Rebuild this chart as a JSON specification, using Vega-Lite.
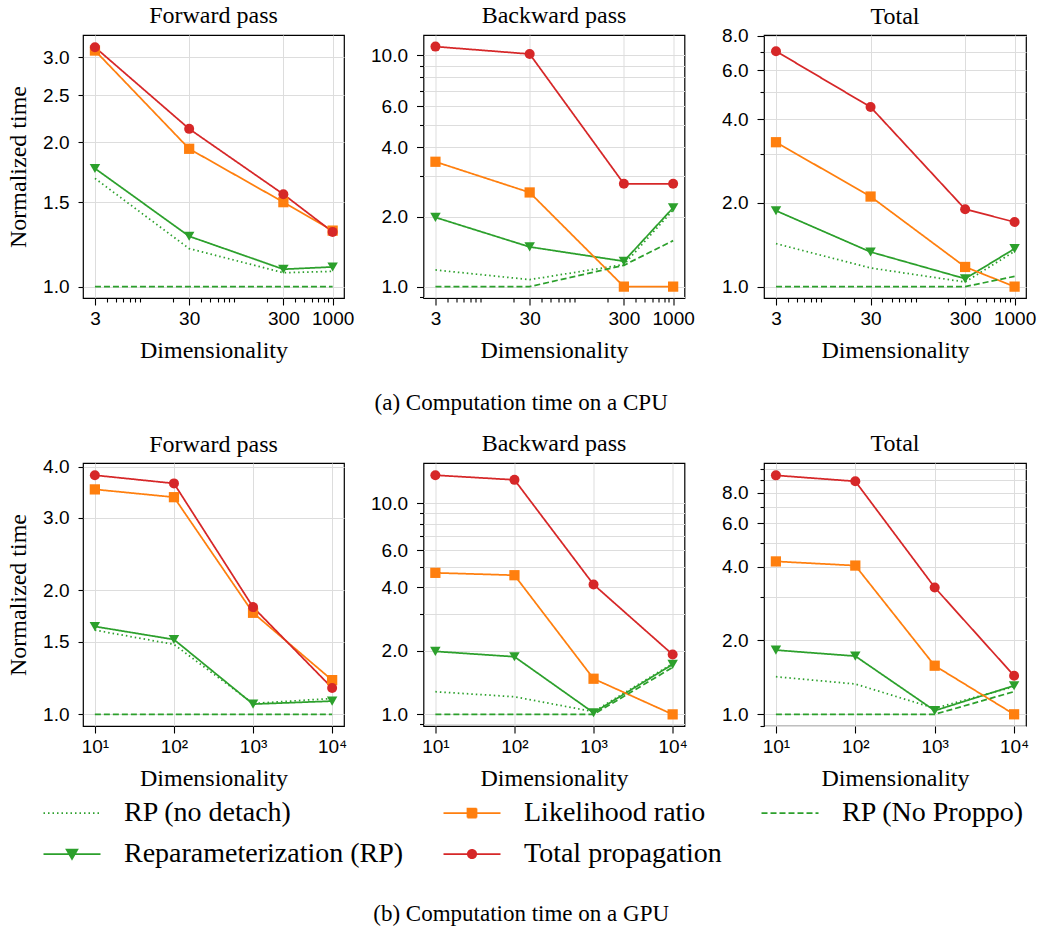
{
  "$schema": "https://vega.github.io/schema/vega-lite/v6.json",
  "padding": {"left": 5, "top": 3, "right": 0, "bottom": 0},
  "background": "white",
  "datasets": {
    "d": [
      {"dev":"CPU","panel":"Forward pass","series":"RP (no detach)","dim":3,"t":1.68},
      {"dev":"CPU","panel":"Forward pass","series":"RP (no detach)","dim":30,"t":1.20},
      {"dev":"CPU","panel":"Forward pass","series":"RP (no detach)","dim":300,"t":1.069},
      {"dev":"CPU","panel":"Forward pass","series":"RP (no detach)","dim":1000,"t":1.076},
      {"dev":"CPU","panel":"Forward pass","series":"Reparameterization (RP)","dim":3,"t":1.762},
      {"dev":"CPU","panel":"Forward pass","series":"Reparameterization (RP)","dim":30,"t":1.273},
      {"dev":"CPU","panel":"Forward pass","series":"Reparameterization (RP)","dim":300,"t":1.087},
      {"dev":"CPU","panel":"Forward pass","series":"Reparameterization (RP)","dim":1000,"t":1.099},
      {"dev":"CPU","panel":"Forward pass","series":"Likelihood ratio","dim":3,"t":3.10},
      {"dev":"CPU","panel":"Forward pass","series":"Likelihood ratio","dim":30,"t":1.936},
      {"dev":"CPU","panel":"Forward pass","series":"Likelihood ratio","dim":300,"t":1.499},
      {"dev":"CPU","panel":"Forward pass","series":"Likelihood ratio","dim":1000,"t":1.308},
      {"dev":"CPU","panel":"Forward pass","series":"Total propagation","dim":3,"t":3.15},
      {"dev":"CPU","panel":"Forward pass","series":"Total propagation","dim":30,"t":2.13},
      {"dev":"CPU","panel":"Forward pass","series":"Total propagation","dim":300,"t":1.557},
      {"dev":"CPU","panel":"Forward pass","series":"Total propagation","dim":1000,"t":1.30},
      {"dev":"CPU","panel":"Forward pass","series":"RP (No Proppo)","dim":3,"t":1.0},
      {"dev":"CPU","panel":"Forward pass","series":"RP (No Proppo)","dim":30,"t":1.0},
      {"dev":"CPU","panel":"Forward pass","series":"RP (No Proppo)","dim":300,"t":1.0},
      {"dev":"CPU","panel":"Forward pass","series":"RP (No Proppo)","dim":1000,"t":1.0},

      {"dev":"CPU","panel":"Backward pass","series":"RP (no detach)","dim":3,"t":1.18},
      {"dev":"CPU","panel":"Backward pass","series":"RP (no detach)","dim":30,"t":1.072},
      {"dev":"CPU","panel":"Backward pass","series":"RP (no detach)","dim":300,"t":1.245},
      {"dev":"CPU","panel":"Backward pass","series":"RP (no detach)","dim":1000,"t":2.14},
      {"dev":"CPU","panel":"Backward pass","series":"Reparameterization (RP)","dim":3,"t":1.99},
      {"dev":"CPU","panel":"Backward pass","series":"Reparameterization (RP)","dim":30,"t":1.484},
      {"dev":"CPU","panel":"Backward pass","series":"Reparameterization (RP)","dim":300,"t":1.287},
      {"dev":"CPU","panel":"Backward pass","series":"Reparameterization (RP)","dim":1000,"t":2.19},
      {"dev":"CPU","panel":"Backward pass","series":"Likelihood ratio","dim":3,"t":3.46},
      {"dev":"CPU","panel":"Backward pass","series":"Likelihood ratio","dim":30,"t":2.55},
      {"dev":"CPU","panel":"Backward pass","series":"Likelihood ratio","dim":300,"t":1.0},
      {"dev":"CPU","panel":"Backward pass","series":"Likelihood ratio","dim":1000,"t":1.0},
      {"dev":"CPU","panel":"Backward pass","series":"Total propagation","dim":3,"t":10.87},
      {"dev":"CPU","panel":"Backward pass","series":"Total propagation","dim":30,"t":10.1},
      {"dev":"CPU","panel":"Backward pass","series":"Total propagation","dim":300,"t":2.78},
      {"dev":"CPU","panel":"Backward pass","series":"Total propagation","dim":1000,"t":2.78},
      {"dev":"CPU","panel":"Backward pass","series":"RP (No Proppo)","dim":3,"t":1.0},
      {"dev":"CPU","panel":"Backward pass","series":"RP (No Proppo)","dim":30,"t":1.0},
      {"dev":"CPU","panel":"Backward pass","series":"RP (No Proppo)","dim":300,"t":1.236},
      {"dev":"CPU","panel":"Backward pass","series":"RP (No Proppo)","dim":1000,"t":1.58},

      {"dev":"CPU","panel":"Total","series":"RP (no detach)","dim":3,"t":1.428},
      {"dev":"CPU","panel":"Total","series":"RP (no detach)","dim":30,"t":1.167},
      {"dev":"CPU","panel":"Total","series":"RP (no detach)","dim":300,"t":1.039},
      {"dev":"CPU","panel":"Total","series":"RP (no detach)","dim":1000,"t":1.34},
      {"dev":"CPU","panel":"Total","series":"Reparameterization (RP)","dim":3,"t":1.876},
      {"dev":"CPU","panel":"Total","series":"Reparameterization (RP)","dim":30,"t":1.333},
      {"dev":"CPU","panel":"Total","series":"Reparameterization (RP)","dim":300,"t":1.068},
      {"dev":"CPU","panel":"Total","series":"Reparameterization (RP)","dim":1000,"t":1.37},
      {"dev":"CPU","panel":"Total","series":"Likelihood ratio","dim":3,"t":3.31},
      {"dev":"CPU","panel":"Total","series":"Likelihood ratio","dim":30,"t":2.11},
      {"dev":"CPU","panel":"Total","series":"Likelihood ratio","dim":300,"t":1.177},
      {"dev":"CPU","panel":"Total","series":"Likelihood ratio","dim":1000,"t":1.0},
      {"dev":"CPU","panel":"Total","series":"Total propagation","dim":3,"t":7.04},
      {"dev":"CPU","panel":"Total","series":"Total propagation","dim":30,"t":4.43},
      {"dev":"CPU","panel":"Total","series":"Total propagation","dim":300,"t":1.90},
      {"dev":"CPU","panel":"Total","series":"Total propagation","dim":1000,"t":1.708},
      {"dev":"CPU","panel":"Total","series":"RP (No Proppo)","dim":3,"t":1.0},
      {"dev":"CPU","panel":"Total","series":"RP (No Proppo)","dim":30,"t":1.0},
      {"dev":"CPU","panel":"Total","series":"RP (No Proppo)","dim":300,"t":1.0},
      {"dev":"CPU","panel":"Total","series":"RP (No Proppo)","dim":1000,"t":1.089},

      {"dev":"GPU","panel":"Forward pass","series":"RP (no detach)","dim":10,"t":1.602},
      {"dev":"GPU","panel":"Forward pass","series":"RP (no detach)","dim":100,"t":1.479},
      {"dev":"GPU","panel":"Forward pass","series":"RP (no detach)","dim":1000,"t":1.063},
      {"dev":"GPU","panel":"Forward pass","series":"RP (no detach)","dim":10000,"t":1.093},
      {"dev":"GPU","panel":"Forward pass","series":"Reparameterization (RP)","dim":10,"t":1.635},
      {"dev":"GPU","panel":"Forward pass","series":"Reparameterization (RP)","dim":100,"t":1.52},
      {"dev":"GPU","panel":"Forward pass","series":"Reparameterization (RP)","dim":1000,"t":1.059},
      {"dev":"GPU","panel":"Forward pass","series":"Reparameterization (RP)","dim":10000,"t":1.077},
      {"dev":"GPU","panel":"Forward pass","series":"Likelihood ratio","dim":10,"t":3.52},
      {"dev":"GPU","panel":"Forward pass","series":"Likelihood ratio","dim":100,"t":3.37},
      {"dev":"GPU","panel":"Forward pass","series":"Likelihood ratio","dim":1000,"t":1.765},
      {"dev":"GPU","panel":"Forward pass","series":"Likelihood ratio","dim":10000,"t":1.211},
      {"dev":"GPU","panel":"Forward pass","series":"Total propagation","dim":10,"t":3.81},
      {"dev":"GPU","panel":"Forward pass","series":"Total propagation","dim":100,"t":3.64},
      {"dev":"GPU","panel":"Forward pass","series":"Total propagation","dim":1000,"t":1.822},
      {"dev":"GPU","panel":"Forward pass","series":"Total propagation","dim":10000,"t":1.159},
      {"dev":"GPU","panel":"Forward pass","series":"RP (No Proppo)","dim":10,"t":1.0},
      {"dev":"GPU","panel":"Forward pass","series":"RP (No Proppo)","dim":100,"t":1.0},
      {"dev":"GPU","panel":"Forward pass","series":"RP (No Proppo)","dim":1000,"t":1.0},
      {"dev":"GPU","panel":"Forward pass","series":"RP (No Proppo)","dim":10000,"t":1.0},

      {"dev":"GPU","panel":"Backward pass","series":"RP (no detach)","dim":10,"t":1.28},
      {"dev":"GPU","panel":"Backward pass","series":"RP (no detach)","dim":100,"t":1.212},
      {"dev":"GPU","panel":"Backward pass","series":"RP (no detach)","dim":1000,"t":1.03},
      {"dev":"GPU","panel":"Backward pass","series":"RP (no detach)","dim":10000,"t":1.74},
      {"dev":"GPU","panel":"Backward pass","series":"Reparameterization (RP)","dim":10,"t":1.987},
      {"dev":"GPU","panel":"Backward pass","series":"Reparameterization (RP)","dim":100,"t":1.875},
      {"dev":"GPU","panel":"Backward pass","series":"Reparameterization (RP)","dim":1000,"t":1.018},
      {"dev":"GPU","panel":"Backward pass","series":"Reparameterization (RP)","dim":10000,"t":1.725},
      {"dev":"GPU","panel":"Backward pass","series":"Likelihood ratio","dim":10,"t":4.68},
      {"dev":"GPU","panel":"Backward pass","series":"Likelihood ratio","dim":100,"t":4.56},
      {"dev":"GPU","panel":"Backward pass","series":"Likelihood ratio","dim":1000,"t":1.475},
      {"dev":"GPU","panel":"Backward pass","series":"Likelihood ratio","dim":10000,"t":1.0},
      {"dev":"GPU","panel":"Backward pass","series":"Total propagation","dim":10,"t":13.57},
      {"dev":"GPU","panel":"Backward pass","series":"Total propagation","dim":100,"t":12.9},
      {"dev":"GPU","panel":"Backward pass","series":"Total propagation","dim":1000,"t":4.12},
      {"dev":"GPU","panel":"Backward pass","series":"Total propagation","dim":10000,"t":1.92},
      {"dev":"GPU","panel":"Backward pass","series":"RP (No Proppo)","dim":10,"t":1.0},
      {"dev":"GPU","panel":"Backward pass","series":"RP (No Proppo)","dim":100,"t":1.0},
      {"dev":"GPU","panel":"Backward pass","series":"RP (No Proppo)","dim":1000,"t":1.0},
      {"dev":"GPU","panel":"Backward pass","series":"RP (No Proppo)","dim":10000,"t":1.669},

      {"dev":"GPU","panel":"Total","series":"RP (no detach)","dim":10,"t":1.423},
      {"dev":"GPU","panel":"Total","series":"RP (no detach)","dim":100,"t":1.329},
      {"dev":"GPU","panel":"Total","series":"RP (no detach)","dim":1000,"t":1.058},
      {"dev":"GPU","panel":"Total","series":"RP (no detach)","dim":10000,"t":1.296},
      {"dev":"GPU","panel":"Total","series":"Reparameterization (RP)","dim":10,"t":1.827},
      {"dev":"GPU","panel":"Total","series":"Reparameterization (RP)","dim":100,"t":1.727},
      {"dev":"GPU","panel":"Total","series":"Reparameterization (RP)","dim":1000,"t":1.035},
      {"dev":"GPU","panel":"Total","series":"Reparameterization (RP)","dim":10000,"t":1.308},
      {"dev":"GPU","panel":"Total","series":"Likelihood ratio","dim":10,"t":4.20},
      {"dev":"GPU","panel":"Total","series":"Likelihood ratio","dim":100,"t":4.04},
      {"dev":"GPU","panel":"Total","series":"Likelihood ratio","dim":1000,"t":1.578},
      {"dev":"GPU","panel":"Total","series":"Likelihood ratio","dim":10000,"t":1.0},
      {"dev":"GPU","panel":"Total","series":"Total propagation","dim":10,"t":9.42},
      {"dev":"GPU","panel":"Total","series":"Total propagation","dim":100,"t":8.91},
      {"dev":"GPU","panel":"Total","series":"Total propagation","dim":1000,"t":3.29},
      {"dev":"GPU","panel":"Total","series":"Total propagation","dim":10000,"t":1.436},
      {"dev":"GPU","panel":"Total","series":"RP (No Proppo)","dim":10,"t":1.0},
      {"dev":"GPU","panel":"Total","series":"RP (No Proppo)","dim":100,"t":1.0},
      {"dev":"GPU","panel":"Total","series":"RP (No Proppo)","dim":1000,"t":1.0},
      {"dev":"GPU","panel":"Total","series":"RP (No Proppo)","dim":10000,"t":1.237}
    ]
  },
  "data": {"name": "d"},
  "title": {"text": "(b) Computation time on a GPU", "orient": "bottom", "anchor": "middle", "fontSize": 23, "offset": 35},
  "vconcat": [
    {
      "title": {"text": "(a) Computation time on a CPU", "orient": "bottom", "anchor": "middle", "fontSize": 23, "offset": 29},
      "bounds": "flush",
      "spacing": 79.5,
      "hconcat": [
        {
          "title": "Forward pass",
          "width": 261, "height": 263,
          "transform": [{"filter": "datum.dev === 'CPU' && datum.panel === 'Forward pass'"}],
          "encoding": {
            "x": {"field": "dim", "type": "quantitative", "scale": {"type": "log", "domain": [2.24, 1320], "nice": false},
              "axis": {"title": "Dimensionality", "values": [3,4,5,6,7,8,9,20,30,40,50,60,70,80,90,200,300,400,500,600,700,800,900,1000],
                "labelExpr": "indexof([3,30,300,1000], datum.value) >= 0 ? format(datum.value, 'd') : ''",
                "tickSize": {"condition": {"test": "indexof([3,30,300,1000], datum.value) >= 0", "value": 7}, "value": 4},
                "gridOpacity": {"condition": {"test": "indexof([3,30,300,1000], datum.value) >= 0", "value": 1}, "value": 0}}},
            "y": {"field": "t", "type": "quantitative", "scale": {"type": "log", "domain": [0.947, 3.34], "nice": false},
              "axis": {"title": "Normalized time", "values": [1, 1.5, 2, 2.5, 3], "format": ".1f"}}
          },
          "layer": [
            {"mark": {"type": "line", "strokeWidth": 1.75},
             "encoding": {
               "color": {"field": "series", "type": "nominal",
                 "scale": {"domain": ["RP (no detach)", "Likelihood ratio", "RP (No Proppo)", "Reparameterization (RP)", "Total propagation"], "range": ["#2ca02c", "#ff7f0e", "#2ca02c", "#2ca02c", "#d62728"]},
                 "legend": {"title": null, "orient": "none", "legendX": -41, "legendY": 762, "columns": 3, "direction": "horizontal", "symbolSize": 900, "symbolStrokeWidth": 1.75,
                   "symbolOffset": 14, "labelOffset": 36, "labelFont": "Liberation Serif", "labelFontSize": 28, "labelColor": "#000000", "labelLimit": 600,
                   "columnPadding": 36, "rowPadding": 11, "padding": 0,
                   "encode": {"symbols": {"update": {
                     "shape": {"signal": "datum.value === 'Reparameterization (RP)' ? 'M-1.9,0H1.9M-0.36,-0.3L0.36,-0.3L0,0.33Z' : datum.value === 'Likelihood ratio' ? 'M-1.9,0H1.9M-0.3,-0.3H0.3V0.3H-0.3Z' : datum.value === 'Total propagation' ? 'M-1.9,0H1.9M0.28,0A0.28,0.28 0 1,1 -0.28,0A0.28,0.28 0 1,1 0.28,0Z' : 'M-1.9,0H1.9'"},
                     "fill": {"scale": "color", "field": "value"},
                     "stroke": {"scale": "color", "field": "value"},
                     "strokeDash": {"scale": "strokeDash", "field": "value"},
                     "opacity": {"value": 1}
                   }}, "labels": {"update": {"font": {"value": "Liberation Serif"}, "fontSize": {"value": 28}}}}}},
               "strokeDash": {"field": "series", "type": "nominal", "legend": null,
                 "scale": {"domain": ["RP (no detach)", "Likelihood ratio", "RP (No Proppo)", "Reparameterization (RP)", "Total propagation"], "range": [[1.5, 3], [1, 0], [6, 3], [1, 0], [1, 0]]}}}},
            {"transform": [{"filter": "datum.series === 'Reparameterization (RP)' || datum.series === 'Likelihood ratio' || datum.series === 'Total propagation'"}],
             "mark": {"type": "point", "filled": true, "opacity": 1, "strokeWidth": 0},
             "encoding": {"color": {"field": "series", "type": "nominal"},
               "shape": {"field": "series", "type": "nominal", "legend": null, "scale": {"domain": ["Reparameterization (RP)", "Likelihood ratio", "Total propagation"], "range": ["triangle-down", "square", "circle"]}},
               "size": {"field": "series", "type": "nominal", "legend": null, "scale": {"domain": ["Reparameterization (RP)", "Likelihood ratio", "Total propagation"], "range": [110, 100, 81]}}}}
          ]
        },
        {
          "title": "Backward pass",
          "width": 261, "height": 263,
          "transform": [{"filter": "datum.dev === 'CPU' && datum.panel === 'Backward pass'"}],
          "encoding": {
            "x": {"field": "dim", "type": "quantitative", "scale": {"type": "log", "domain": [2.24, 1320], "nice": false},
              "axis": {"title": "Dimensionality", "values": [3,4,5,6,7,8,9,20,30,40,50,60,70,80,90,200,300,400,500,600,700,800,900,1000],
                "labelExpr": "indexof([3,30,300,1000], datum.value) >= 0 ? format(datum.value, 'd') : ''",
                "tickSize": {"condition": {"test": "indexof([3,30,300,1000], datum.value) >= 0", "value": 7}, "value": 4},
                "gridOpacity": {"condition": {"test": "indexof([3,30,300,1000], datum.value) >= 0", "value": 1}, "value": 0}}},
            "y": {"field": "t", "type": "quantitative", "scale": {"type": "log", "domain": [0.893, 12.2], "nice": false},
              "axis": {"title": null, "values": [0.9,1,2,3,4,5,6,7,8,9,10],
                "labelExpr": "indexof([1,2,4,6,10], datum.value) >= 0 ? format(datum.value, '.1f') : ''",
                "tickSize": {"condition": {"test": "indexof([1,2,4,6,10], datum.value) >= 0", "value": 7}, "value": 4}}}
          },
          "layer": [
            {"mark": {"type": "line", "strokeWidth": 1.75},
             "encoding": {"color": {"field": "series", "type": "nominal"}, "strokeDash": {"field": "series", "type": "nominal", "legend": null}}},
            {"transform": [{"filter": "datum.series === 'Reparameterization (RP)' || datum.series === 'Likelihood ratio' || datum.series === 'Total propagation'"}],
             "mark": {"type": "point", "filled": true, "opacity": 1, "strokeWidth": 0},
             "encoding": {"color": {"field": "series", "type": "nominal"}, "shape": {"field": "series", "type": "nominal", "legend": null}, "size": {"field": "series", "type": "nominal", "legend": null}}}
          ]
        },
        {
          "title": {"text": "Total", "dy": 9},
          "width": 262, "height": 263,
          "transform": [{"filter": "datum.dev === 'CPU' && datum.panel === 'Total'"}],
          "encoding": {
            "x": {"field": "dim", "type": "quantitative", "scale": {"type": "log", "domain": [2.24, 1320], "nice": false},
              "axis": {"title": "Dimensionality", "values": [3,4,5,6,7,8,9,20,30,40,50,60,70,80,90,200,300,400,500,600,700,800,900,1000],
                "labelExpr": "indexof([3,30,300,1000], datum.value) >= 0 ? format(datum.value, 'd') : ''",
                "tickSize": {"condition": {"test": "indexof([3,30,300,1000], datum.value) >= 0", "value": 7}, "value": 4},
                "gridOpacity": {"condition": {"test": "indexof([3,30,300,1000], datum.value) >= 0", "value": 1}, "value": 0}}},
            "y": {"field": "t", "type": "quantitative", "scale": {"type": "log", "domain": [0.91, 8.05], "nice": false},
              "axis": {"title": null, "values": [1,2,3,4,5,6,7,8],
                "labelExpr": "indexof([1,2,4,6,8], datum.value) >= 0 ? format(datum.value, '.1f') : ''",
                "tickSize": {"condition": {"test": "indexof([1,2,4,6,8], datum.value) >= 0", "value": 7}, "value": 4}}}
          },
          "layer": [
            {"mark": {"type": "line", "strokeWidth": 1.75},
             "encoding": {"color": {"field": "series", "type": "nominal"}, "strokeDash": {"field": "series", "type": "nominal", "legend": null}}},
            {"transform": [{"filter": "datum.series === 'Reparameterization (RP)' || datum.series === 'Likelihood ratio' || datum.series === 'Total propagation'"}],
             "mark": {"type": "point", "filled": true, "opacity": 1, "strokeWidth": 0},
             "encoding": {"color": {"field": "series", "type": "nominal"}, "shape": {"field": "series", "type": "nominal", "legend": null}, "size": {"field": "series", "type": "nominal", "legend": null}}}
          ]
        }
      ]
    },
    {
      "bounds": "flush",
      "spacing": 79.5,
      "hconcat": [
        {
          "title": {"text": "Forward pass", "dy": 6},
          "width": 261, "height": 263,
          "transform": [{"filter": "datum.dev === 'GPU' && datum.panel === 'Forward pass'"}],
          "encoding": {
            "x": {"field": "dim", "type": "quantitative", "scale": {"type": "log", "domain": [7.08, 14125], "nice": false},
              "axis": {"title": "Dimensionality", "values": [10,100,1000,10000],
                "labelExpr": "datum.value == 10 ? '10¹' : datum.value == 100 ? '10²' : datum.value == 1000 ? '10³' : '10⁴'", "tickSize": 7}},
            "y": {"field": "t", "type": "quantitative", "scale": {"type": "log", "domain": [0.937, 4.08], "nice": false},
              "axis": {"title": "Normalized time", "values": [1, 1.5, 2, 3, 4], "format": ".1f"}}
          },
          "layer": [
            {"mark": {"type": "line", "strokeWidth": 1.75},
             "encoding": {"color": {"field": "series", "type": "nominal"}, "strokeDash": {"field": "series", "type": "nominal", "legend": null}}},
            {"transform": [{"filter": "datum.series === 'Reparameterization (RP)' || datum.series === 'Likelihood ratio' || datum.series === 'Total propagation'"}],
             "mark": {"type": "point", "filled": true, "opacity": 1, "strokeWidth": 0},
             "encoding": {"color": {"field": "series", "type": "nominal"}, "shape": {"field": "series", "type": "nominal", "legend": null}, "size": {"field": "series", "type": "nominal", "legend": null}}}
          ]
        },
        {
          "title": "Backward pass",
          "width": 261, "height": 263,
          "transform": [{"filter": "datum.dev === 'GPU' && datum.panel === 'Backward pass'"}],
          "encoding": {
            "x": {"field": "dim", "type": "quantitative", "scale": {"type": "log", "domain": [7.08, 14125], "nice": false},
              "axis": {"title": "Dimensionality", "values": [10,100,1000,10000],
                "labelExpr": "datum.value == 10 ? '10¹' : datum.value == 100 ? '10²' : datum.value == 1000 ? '10³' : '10⁴'", "tickSize": 7}},
            "y": {"field": "t", "type": "quantitative", "scale": {"type": "log", "domain": [0.881, 15.5], "nice": false},
              "axis": {"title": null, "values": [0.9,1,2,3,4,5,6,7,8,9,10],
                "labelExpr": "indexof([1,2,4,6,10], datum.value) >= 0 ? format(datum.value, '.1f') : ''",
                "tickSize": {"condition": {"test": "indexof([1,2,4,6,10], datum.value) >= 0", "value": 7}, "value": 4}}}
          },
          "layer": [
            {"mark": {"type": "line", "strokeWidth": 1.75},
             "encoding": {"color": {"field": "series", "type": "nominal"}, "strokeDash": {"field": "series", "type": "nominal", "legend": null}}},
            {"transform": [{"filter": "datum.series === 'Reparameterization (RP)' || datum.series === 'Likelihood ratio' || datum.series === 'Total propagation'"}],
             "mark": {"type": "point", "filled": true, "opacity": 1, "strokeWidth": 0},
             "encoding": {"color": {"field": "series", "type": "nominal"}, "shape": {"field": "series", "type": "nominal", "legend": null}, "size": {"field": "series", "type": "nominal", "legend": null}}}
          ]
        },
        {
          "title": {"text": "Total", "dy": 3},
          "width": 262, "height": 263,
          "transform": [{"filter": "datum.dev === 'GPU' && datum.panel === 'Total'"}],
          "encoding": {
            "x": {"field": "dim", "type": "quantitative", "scale": {"type": "log", "domain": [7.08, 14125], "nice": false},
              "axis": {"title": "Dimensionality", "values": [10,100,1000,10000],
                "labelExpr": "datum.value == 10 ? '10¹' : datum.value == 100 ? '10²' : datum.value == 1000 ? '10³' : '10⁴'", "tickSize": 7}},
            "y": {"field": "t", "type": "quantitative", "scale": {"type": "log", "domain": [0.896, 10.58], "nice": false},
              "axis": {"title": null, "values": [0.9,1,2,3,4,5,6,7,8,9,10],
                "labelExpr": "indexof([1,2,4,6,8], datum.value) >= 0 ? format(datum.value, '.1f') : ''",
                "tickSize": {"condition": {"test": "indexof([1,2,4,6,8], datum.value) >= 0", "value": 7}, "value": 4}}}
          },
          "layer": [
            {"mark": {"type": "line", "strokeWidth": 1.75},
             "encoding": {"color": {"field": "series", "type": "nominal"}, "strokeDash": {"field": "series", "type": "nominal", "legend": null}}},
            {"transform": [{"filter": "datum.series === 'Reparameterization (RP)' || datum.series === 'Likelihood ratio' || datum.series === 'Total propagation'"}],
             "mark": {"type": "point", "filled": true, "opacity": 1, "strokeWidth": 0},
             "encoding": {"color": {"field": "series", "type": "nominal"}, "shape": {"field": "series", "type": "nominal", "legend": null}, "size": {"field": "series", "type": "nominal", "legend": null}}}
          ]
        }
      ]
    }
  ],
  "spacing": 16,
  "resolve": {"scale": {"color": "shared", "strokeDash": "shared", "shape": "shared", "size": "shared"}},
  "config": {
    "font": "Liberation Serif",
    "view": {"stroke": "#000000", "strokeWidth": 1.2},
    "axis": {"domain": false, "tickColor": "#000000", "tickWidth": 1.1, "labelFont": "Liberation Sans", "labelFontSize": 19, "labelColor": "#000000", "labelPadding": 4, "labelOverlap": false, "labelFlush": false,
      "titleFont": "Liberation Serif", "titleFontSize": 24, "titleFontWeight": "normal", "titleColor": "#000000", "gridColor": "#dddddd", "gridWidth": 1},
    "axisX": {"titlePadding": 10},
    "axisY": {"titlePadding": 12, "labelPadding": 9},
    "legend": {"labelFont": "Liberation Serif", "labelFontSize": 28},
    "title": {"font": "Liberation Serif", "fontSize": 24, "fontWeight": "normal", "color": "#000000", "offset": 7}
  }
}
